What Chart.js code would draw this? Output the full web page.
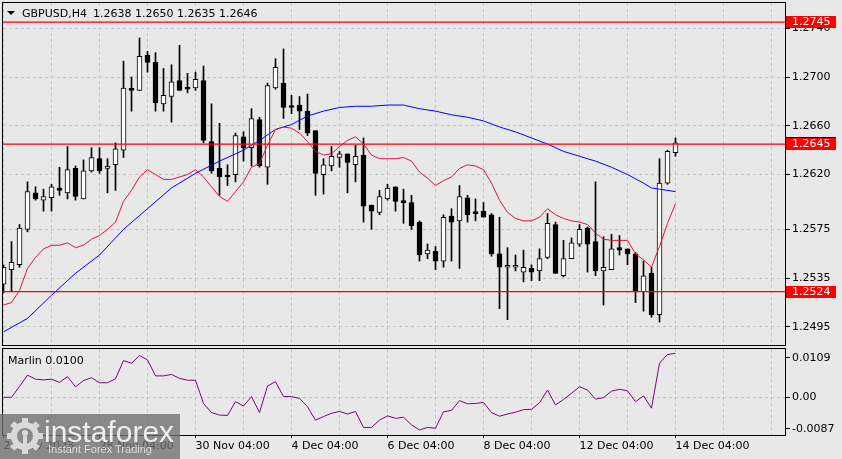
<!DOCTYPE html>
<html lang="en">
<head>
<meta charset="UTF-8" />
<title>GBPUSD H4</title>
<script src="https://cdn.jsdelivr.net/npm/chart.js"></script>
<style>
  html, body { margin: 0; padding: 0; background: #e8e8e8; }
  #wrap { position: relative; width: 842px; height: 459px; overflow: hidden; }
  #priceChart { position: absolute; left: 0; top: 0; }
  #marlinChart { position: absolute; left: 0; top: 347px; }
  #logo { position: absolute; left: 0; top: 414px; }
</style>
</head>
<body>
<div id="wrap">
  <canvas id="priceChart" width="842" height="347"></canvas>
  <canvas id="marlinChart" width="842" height="112"></canvas>
  <svg id="logo" width="180" height="45" xmlns="http://www.w3.org/2000/svg">
    <rect width="180" height="45" fill="rgba(112,112,112,0.8)" />
    <g transform="translate(25,22)" fill="#d9d9d9">
      <rect x="-3" y="-18" width="6" height="36" />
      <rect x="-3" y="-18" width="6" height="36" transform="rotate(45)" />
      <rect x="-3" y="-18" width="6" height="36" transform="rotate(90)" />
      <rect x="-3" y="-18" width="6" height="36" transform="rotate(135)" />
      <circle r="14" />
      <circle r="8" fill="#8a8a8a" />
      <circle cy="-3" r="3" fill="#d9d9d9" />
      <rect x="-2" y="0" width="4" height="12" fill="#d9d9d9" />
    </g>
    <text x="44" y="28" font-family="Liberation Sans, Arial, sans-serif" font-size="30" fill="#eeeeee">instaforex</text>
    <text x="48" y="39" font-family="Liberation Sans, Arial, sans-serif" font-size="11" fill="#dddddd">Instant Forex Trading</text>
  </svg>
</div>

<script>
  const symbol = 'GBPUSD,H4';

  // H4 candles, one per bar index
  const opens = [1.2530, 1.2542, 1.2546, 1.2575, 1.2605, 1.2599, 1.2601, 1.2609, 1.2605, 1.2625,
                 1.2600, 1.2623, 1.2633, 1.2625, 1.2628, 1.2640, 1.2690, 1.2689, 1.2718, 1.2712,
                 1.2678, 1.2684, 1.2697, 1.2691, 1.2691, 1.2697, 1.2647, 1.2625, 1.2619, 1.2620,
                 1.2651, 1.2642, 1.2665, 1.2626, 1.2691, 1.2695, 1.2676, 1.2677, 1.2672, 1.2656,
                 1.2620, 1.2627, 1.2634, 1.2637, 1.2628, 1.2636, 1.2595, 1.2589, 1.2600, 1.2610,
                 1.2598, 1.2597, 1.2581, 1.2555, 1.2557, 1.2549, 1.2586, 1.2582, 1.2601, 1.2589,
                 1.2590, 1.2587, 1.2555, 1.2544, 1.2544, 1.2540, 1.2543, 1.2541, 1.2552, 1.2579,
                 1.2537, 1.2551, 1.2563, 1.2576, 1.2565, 1.2541, 1.2542, 1.2560, 1.2559, 1.2555,
                 1.2524, 1.2539, 1.2505, 1.2613, 1.2638];
  const highs = [1.2546, 1.2565, 1.2579, 1.2614, 1.2610, 1.2608, 1.2612, 1.2626, 1.2643, 1.2627,
                 1.2632, 1.2642, 1.2642, 1.2633, 1.2646, 1.2713, 1.2700, 1.2732, 1.2721, 1.2720,
                 1.2707, 1.2710, 1.2726, 1.2703, 1.2704, 1.2709, 1.2678, 1.2662, 1.2628, 1.2654,
                 1.2655, 1.2674, 1.2667, 1.2695, 1.2715, 1.2723, 1.2685, 1.2684, 1.2686, 1.2656,
                 1.2633, 1.2643, 1.2639, 1.2637, 1.2644, 1.2650, 1.2595, 1.2607, 1.2612, 1.2610,
                 1.2608, 1.2603, 1.2582, 1.2563, 1.2561, 1.2587, 1.2592, 1.2611, 1.2603, 1.2600,
                 1.2597, 1.2588, 1.2585, 1.2560, 1.2554, 1.2558, 1.2546, 1.2559, 1.2588, 1.2581,
                 1.2566, 1.2568, 1.2579, 1.2577, 1.2614, 1.2569, 1.2571, 1.2570, 1.2559, 1.2556,
                 1.2549, 1.2544, 1.2633, 1.2640, 1.2650];
  const lows = [1.2523, 1.2524, 1.2544, 1.2573, 1.2599, 1.2590, 1.2590, 1.2603, 1.2600, 1.2599,
                1.2600, 1.2622, 1.2621, 1.2605, 1.2607, 1.2634, 1.2672, 1.2689, 1.2704, 1.2672,
                1.2672, 1.2663, 1.2689, 1.2687, 1.2689, 1.2646, 1.2621, 1.2603, 1.2611, 1.2614,
                1.2631, 1.2627, 1.2626, 1.2612, 1.2690, 1.2666, 1.2670, 1.2657, 1.2652, 1.2603,
                1.2604, 1.2623, 1.2626, 1.2605, 1.2614, 1.2581, 1.2575, 1.2587, 1.2599, 1.2590,
                1.2580, 1.2575, 1.2549, 1.2551, 1.2542, 1.2544, 1.2549, 1.2543, 1.2581, 1.2582,
                1.2585, 1.2553, 1.2510, 1.2501, 1.2541, 1.2532, 1.2533, 1.2533, 1.2551, 1.2539,
                1.2536, 1.2551, 1.2561, 1.2540, 1.2537, 1.2513, 1.2542, 1.2554, 1.2546, 1.2515,
                1.2508, 1.2503, 1.2499, 1.2612, 1.2635];
  const closes = [1.2544, 1.2548, 1.2576, 1.2606, 1.2600, 1.2602, 1.2610, 1.2607, 1.2624, 1.2602,
                  1.2623, 1.2634, 1.2623, 1.2627, 1.2641, 1.2691, 1.2689, 1.2717, 1.2712, 1.2679,
                  1.2685, 1.2696, 1.2689, 1.2690, 1.2698, 1.2648, 1.2623, 1.2618, 1.2618, 1.2652,
                  1.2642, 1.2666, 1.2627, 1.2693, 1.2708, 1.2675, 1.2675, 1.2672, 1.2654, 1.2621,
                  1.2628, 1.2635, 1.2637, 1.2630, 1.2635, 1.2594, 1.2590, 1.2602, 1.2609, 1.2598,
                  1.2597, 1.2578, 1.2554, 1.2558, 1.2549, 1.2585, 1.2581, 1.2602, 1.2587, 1.2588,
                  1.2585, 1.2555, 1.2544, 1.2544, 1.2544, 1.2544, 1.2540, 1.2551, 1.2580, 1.2539,
                  1.2551, 1.2564, 1.2575, 1.2563, 1.2541, 1.2544, 1.2559, 1.2558, 1.2555, 1.2524,
                  1.2537, 1.2505, 1.2613, 1.2639, 1.2646];

  // red (fast) moving average, per bar
  const redMa = [1.2513, 1.2515, 1.2525, 1.2543, 1.2552, 1.2559, 1.2562, 1.2562, 1.2564, 1.2560,
                 1.2562, 1.2567, 1.2570, 1.2575, 1.2581, 1.2598, 1.2607, 1.2618, 1.2624, 1.2620,
                 1.2616, 1.2616, 1.2618, 1.2620, 1.2624, 1.2618, 1.2610, 1.2602, 1.2598, 1.2606,
                 1.2614, 1.2626, 1.2629, 1.2644, 1.2657, 1.2659, 1.2658, 1.2654, 1.2647, 1.2639,
                 1.2636, 1.2637, 1.2643, 1.2648, 1.2651, 1.2645, 1.2636, 1.2633, 1.2633, 1.2633,
                 1.2634, 1.2631, 1.2622, 1.2617, 1.2611, 1.2615, 1.2618, 1.2625, 1.2628, 1.2627,
                 1.2624, 1.2613, 1.2599, 1.2589, 1.2584, 1.2582, 1.2582, 1.2585, 1.2592, 1.2587,
                 1.2584, 1.2582, 1.2581, 1.2579, 1.2572, 1.2567, 1.2566, 1.2566, 1.2566, 1.2555,
                 1.2550, 1.2544, 1.2561, 1.2580, 1.2596];

  // blue (slow) moving average, read at these bars
  const blueBars = [0, 3, 6, 9, 12, 15, 18, 21, 24, 27, 30, 32, 34, 36, 38, 40, 42, 44, 46, 48,
                    50, 52, 54, 56, 58, 60, 62, 64, 66, 68, 70, 72, 74, 76, 78, 80, 81, 82, 84];
  const blueMa = [1.2491, 1.2502, 1.2521, 1.2539, 1.2554, 1.2575, 1.2592, 1.2609, 1.2621, 1.2631,
                  1.2640, 1.2648, 1.2657, 1.2661, 1.2668, 1.2672, 1.2675, 1.2676, 1.2676, 1.2677,
                  1.2677, 1.2674, 1.2672, 1.2669, 1.2667, 1.2664, 1.2659, 1.2655, 1.2650, 1.2645,
                  1.2639, 1.2635, 1.2631, 1.2626, 1.2620, 1.2613, 1.2609, 1.2608, 1.2606];

  // Marlin oscillator, per bar
  const marlin = [0.0000, 0.0000, 0.0030, 0.0061, 0.0050, 0.0048, 0.0050, 0.0041, 0.0057, 0.0029,
                  0.0046, 0.0054, 0.0040, 0.0040, 0.0051, 0.0101, 0.0094, 0.0115, 0.0103, 0.0059,
                  0.0059, 0.0063, 0.0052, 0.0047, 0.0047, -0.0017, -0.0042, -0.0049, -0.0050, -0.0012,
                  -0.0024, 0.0002, -0.0042, 0.0031, 0.0043, 0.0002, 0.0002, -0.0003, -0.0026, -0.0063,
                  -0.0053, -0.0044, -0.0039, -0.0046, -0.0039, -0.0083, -0.0083, -0.0063, -0.0051, -0.0058,
                  -0.0055, -0.0076, -0.0090, -0.0083, -0.0085, -0.0040, -0.0036, -0.0009, -0.0018, -0.0017,
                  -0.0014, -0.0042, -0.0052, -0.0046, -0.0041, -0.0034, -0.0033, -0.0015, 0.0020, -0.0021,
                  -0.0006, 0.0011, 0.0029, 0.0020, -0.0005, -0.0001, 0.0017, 0.0022, 0.0018, -0.0012,
                  0.0004, -0.0030, 0.0094, 0.0118, 0.0121];

  const levels = [1.2745, 1.2645, 1.2524];
  const priceTicks = [1.2495, 1.2535, 1.2575, 1.2620, 1.2660, 1.2700, 1.2740];
  const marlinTicks = [-0.0087, 0, 0.0109];
  const timeLabels = ['24 Nov 2023', '28 Nov 04:00', '30 Nov 04:00', '4 Dec 04:00',
                      '6 Dec 04:00', '8 Dec 04:00', '12 Dec 04:00', '14 Dec 04:00'];
  const labelBars = [0, 12, 24, 36, 48, 60, 72, 84];
  const gridBars = [0, 6, 12, 18, 24, 30, 36, 42, 48, 54, 60, 66, 72, 78, 84, 90, 96];

  // visible range (8px per bar)
  const X_MIN = -0.0625, X_MAX = 97.6875;
  const PRICE_MIN = 1.24802, PRICE_MAX = 1.27607;
  const MARLIN_MIN = -0.01038, MARLIN_MAX = 0.0133;

  const FONT = { family: '"DejaVu Sans", sans-serif', size: 11 };
  const GRID = '#c2c2c2';

  // stop axes from pushing the plot area in for their labels
  const noPad = s => { s.paddingTop = 0; s.paddingBottom = 0; s.paddingLeft = 0; s.paddingRight = 0; };

  const xAxis = (labels) => ({
    type: 'linear', min: X_MIN, max: X_MAX, offset: false,
    afterBuildTicks: s => { s.ticks = gridBars.map(v => ({ value: v })); },
    grid: {
      offset: false, color: GRID, drawTicks: labels, tickLength: 3,
      tickColor: c => labelBars.includes(c.tick && c.tick.value) ? '#000' : 'rgba(0,0,0,0)'
    },
    border: { display: false, dash: [3, 3] },
    ticks: {
      display: labels, autoSkip: false, maxRotation: 0, align: 'start', padding: 2,
      color: '#000', font: FONT,
      callback: v => { const k = labelBars.indexOf(v); return k >= 0 ? timeLabels[k] : ''; }
    },
    afterFit: s => { s.height = labels ? 24 : 0; noPad(s); }
  });

  const frame = (ctx, a) => {
    ctx.strokeStyle = '#000';
    ctx.lineWidth = 1;
    ctx.strokeRect(a.left - 0.5, a.top - 0.5, a.right - a.left + 1, a.bottom - a.top + 1);
  };

  const priceDecor = {
    id: 'priceDecor',
    afterDraw(chart) {
      const { ctx, chartArea: a, scales: { y } } = chart;
      const last = opens.length - 1;
      ctx.save();
      frame(ctx, a);
      ctx.fillStyle = '#000';
      ctx.beginPath();
      ctx.moveTo(7, 11); ctx.lineTo(15, 11); ctx.lineTo(11, 15);
      ctx.closePath(); ctx.fill();
      ctx.font = '11px "DejaVu Sans"';
      ctx.textBaseline = 'alphabetic';
      ctx.fillText(symbol, 22, 17);
      ctx.fillText([opens[last], highs[last], lows[last], closes[last]].map(v => v.toFixed(4)).join(' '), 93, 17);
      const tag = (v, bg) => {
        const py = Math.round(y.getPixelForValue(v));
        ctx.fillStyle = bg;
        ctx.fillRect(a.right + 1, py - 6, 50, 12);
        ctx.fillStyle = '#fff';
        ctx.textBaseline = 'middle';
        ctx.fillText(v.toFixed(4), 792, py + 0.5);
      };
      tag(closes[last], '#000');
      levels.forEach(v => tag(v, '#ff0000'));
      ctx.restore();
    }
  };

  const marlinDecor = {
    id: 'marlinDecor',
    afterDraw(chart) {
      const { ctx, chartArea: a } = chart;
      ctx.save();
      frame(ctx, a);
      ctx.fillStyle = '#000';
      ctx.font = '11px "DejaVu Sans"';
      ctx.textBaseline = 'alphabetic';
      ctx.fillText('Marlin 0.0100', 8, 17);
      ctx.restore();
    }
  };

  const levelSets = levels.map(v => ({
    type: 'line', data: [{ x: X_MIN, y: v }, { x: X_MAX, y: v }],
    borderColor: '#ff0000', borderWidth: 1.2, pointRadius: 0
  }));

  new Chart(document.getElementById('priceChart'), {
    type: 'bar',
    data: {
      datasets: [
        ...levelSets,
        { type: 'line', data: redMa.map((v, i) => ({ x: i, y: v })),
          borderColor: '#dc143c', borderWidth: 1, pointRadius: 0 },
        { type: 'line', data: blueMa.map((v, k) => ({ x: blueBars[k], y: v })),
          borderColor: '#0000ff', borderWidth: 1, pointRadius: 0 },
        { data: opens.map((o, i) => ({ x: i, y: [o, closes[i]] })),
          backgroundColor: c => closes[c.dataIndex] >= opens[c.dataIndex] ? '#ffffff' : '#000000',
          borderColor: '#000', borderWidth: 1, borderSkipped: false,
          barThickness: 5, minBarLength: 2, grouped: false },
        { data: lows.map((l, i) => ({ x: i, y: [l, highs[i]] })),
          backgroundColor: '#000', barThickness: 1, grouped: false }
      ]
    },
    options: {
      responsive: false, animation: false, devicePixelRatio: 1, events: [],
      layout: { padding: { left: 3, top: 3, right: 0, bottom: 2 } },
      plugins: { legend: { display: false }, tooltip: { enabled: false } },
      scales: {
        x: xAxis(false),
        y: {
          position: 'right', min: PRICE_MIN, max: PRICE_MAX,
          afterBuildTicks: s => { s.ticks = priceTicks.map(v => ({ value: v })); },
          grid: { color: GRID, tickLength: 5, tickColor: '#000' },
          border: { display: false, dash: [3, 3] },
          ticks: { color: '#000', font: FONT, padding: 2, callback: v => v.toFixed(4) },
          afterFit: s => { s.width = 57; noPad(s); }
        }
      }
    },
    plugins: [priceDecor]
  });

  new Chart(document.getElementById('marlinChart'), {
    type: 'line',
    data: {
      datasets: [{
        data: marlin.map((v, i) => ({ x: i, y: v })),
        borderColor: '#800080', borderWidth: 1, pointRadius: 0
      }]
    },
    options: {
      responsive: false, animation: false, devicePixelRatio: 1, events: [],
      layout: { padding: { left: 3, top: 2, right: 0, bottom: 0 } },
      plugins: { legend: { display: false }, tooltip: { enabled: false } },
      scales: {
        x: xAxis(true),
        y: {
          position: 'right', min: MARLIN_MIN, max: MARLIN_MAX,
          afterBuildTicks: s => { s.ticks = marlinTicks.map(v => ({ value: v })); },
          grid: { color: c => c.tick && c.tick.value === 0 ? GRID : 'rgba(0,0,0,0)', tickLength: 5, tickColor: '#000' },
          border: { display: false, dash: [3, 3] },
          ticks: { color: '#000', font: FONT, padding: 2, callback: v => v === 0 ? '0.00' : v.toFixed(4) },
          afterFit: s => { s.width = 57; noPad(s); }
        }
      }
    },
    plugins: [marlinDecor]
  });
</script>
</body>
</html>
